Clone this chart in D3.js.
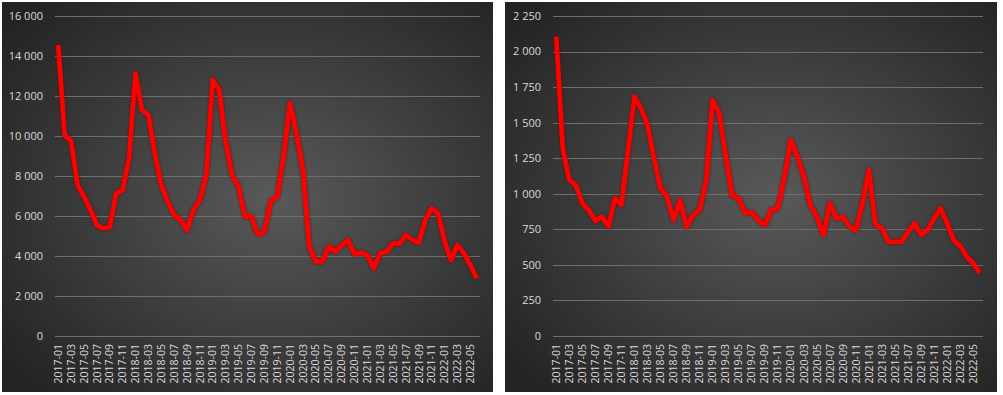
<!DOCTYPE html>
<html>
<head>
<meta charset="utf-8">
<script src="https://cdn.jsdelivr.net/npm/d3@7"></script>
<style>
  body { margin: 0; background: #fff; }
  svg { display: block; }
  .tick-label { font-family: "Open Sans", "Liberation Sans", sans-serif; fill: #d9d9d9; }
</style>
</head>
<body>
<div id="chart"></div>
<script>
// months 2017-01 .. 2022-06
var months = [];
for (var yr = 2017; yr <= 2022; yr++) {
  for (var m = 1; m <= 12; m++) {
    if (yr === 2022 && m > 6) break;
    months.push(yr + "-" + (m < 10 ? "0" + m : m));
  }
}

var leftValues = [
  14550, 10050, 9750, 7550, 6970, 6300, 5550, 5380, 5450, 7130, 7300, 8880,
  13130, 11300, 11050, 9130, 7550, 6720, 6050, 5800, 5300, 6300, 6800, 8050,
  12800, 12300, 9720, 8050, 7470, 5970, 5970, 5080, 5180, 6720, 6970, 8970,
  11630, 10130, 8300, 4470, 3720, 3720, 4470, 4220, 4520, 4800, 4100, 4170,
  4050, 3380, 4130, 4220, 4630, 4630, 5050, 4800, 4670, 5800, 6380, 6130,
  4720, 3800, 4550, 4130, 3550, 2880
];

var rightValues = [
  2105, 1320, 1097, 1062, 933, 886, 809, 839, 769, 968, 921, 1296,
  1683, 1601, 1484, 1249, 1038, 980, 816, 956, 769, 851, 886, 1085,
  1659, 1566, 1273, 991, 968, 863, 868, 816, 780, 886, 898, 1109,
  1378, 1261, 1120, 921, 839, 710, 933, 827, 839, 769, 745, 933,
  1167, 780, 757, 663, 663, 663, 733, 792, 710, 745, 827, 898,
  792, 675, 633, 558, 511, 445
];

var leftTicks = [0, 2000, 4000, 6000, 8000, 10000, 12000, 14000, 16000];
var rightTicks = [0, 250, 500, 750, 1000, 1250, 1500, 1750, 2000, 2250];

var W = 1003, H = 395;
var fmt = d3.formatLocale({ decimal: ",", thousands: "\u00a0", grouping: [3], currency: ["", ""] }).format(",d");

var svg = d3.select("#chart").append("svg").attr("width", W).attr("height", H);
var defs = svg.append("defs");

var grad = defs.append("radialGradient").attr("id", "bg")
  .attr("cx", "55%").attr("cy", "50%").attr("r", "70%");
grad.append("stop").attr("offset", "0%").attr("stop-color", "#595959");
grad.append("stop").attr("offset", "100%").attr("stop-color", "#232323");

var glow = defs.append("filter").attr("id", "glow")
  .attr("x", "-5%").attr("y", "-5%").attr("width", "110%").attr("height", "110%");
glow.append("feGaussianBlur").attr("in", "SourceAlpha").attr("stdDeviation", 1.6).attr("result", "b");
glow.append("feFlood").attr("flood-color", "#700000").attr("flood-opacity", 0.9);
glow.append("feComposite").attr("in2", "b").attr("operator", "in").attr("result", "s");
var merge = glow.append("feMerge");
merge.append("feMergeNode").attr("in", "s");
merge.append("feMergeNode").attr("in", "SourceGraphic");

function panel(opts) {
  var g = svg.append("g");

  g.append("rect")
    .attr("x", opts.x0).attr("y", 2)
    .attr("width", opts.x1 - opts.x0).attr("height", 390)
    .attr("fill", "url(#bg)");

  var x = d3.scaleBand().domain(months).range([opts.left, opts.right]);
  var y = d3.scaleLinear().domain([0, opts.max]).range([336, 16]);

  // gridlines
  g.selectAll(".grid").data(opts.ticks).enter().append("line")
    .attr("x1", opts.left).attr("x2", opts.right)
    .attr("y1", function (d) { return Math.round(y(d)) + 0.5; })
    .attr("y2", function (d) { return Math.round(y(d)) + 0.5; })
    .attr("stroke", "#6e6e6e").attr("stroke-width", 1);

  // y labels
  g.selectAll(".ylab").data(opts.ticks).enter().append("text")
    .attr("class", "tick-label")
    .attr("x", opts.left - 12)
    .attr("y", function (d) { return y(d); })
    .attr("dy", "0.35em")
    .attr("text-anchor", "end")
    .style("font-size", "11px")
    .text(function (d) { return fmt(d); });

  // x labels, every second month
  var xl = months.filter(function (d, i) { return i % 2 === 0; });
  g.selectAll(".xlab").data(xl).enter().append("text")
    .attr("class", "tick-label")
    .attr("transform", function (d) {
      return "translate(" + (x(d) + x.bandwidth() / 2) + ",344) rotate(-90)";
    })
    .attr("dy", "0.35em")
    .attr("text-anchor", "end")
    .style("font-size", "10.5px")
    .text(function (d) { return d; });

  var line = d3.line()
    .x(function (d, i) { return x(months[i]) + x.bandwidth() / 2; })
    .y(function (d) { return y(d); });

  g.append("path")
    .datum(opts.values)
    .attr("d", line)
    .attr("fill", "none")
    .attr("stroke", "#ff0000")
    .attr("stroke-width", 4.5)
    .attr("stroke-linejoin", "round")
    .attr("filter", "url(#glow)");
}

panel({ x0: 2, x1: 493, left: 55, right: 480, max: 16000, ticks: leftTicks, values: leftValues });
panel({ x0: 505, x1: 997, left: 553, right: 983, max: 2250, ticks: rightTicks, values: rightValues });
</script>
</body>
</html>
